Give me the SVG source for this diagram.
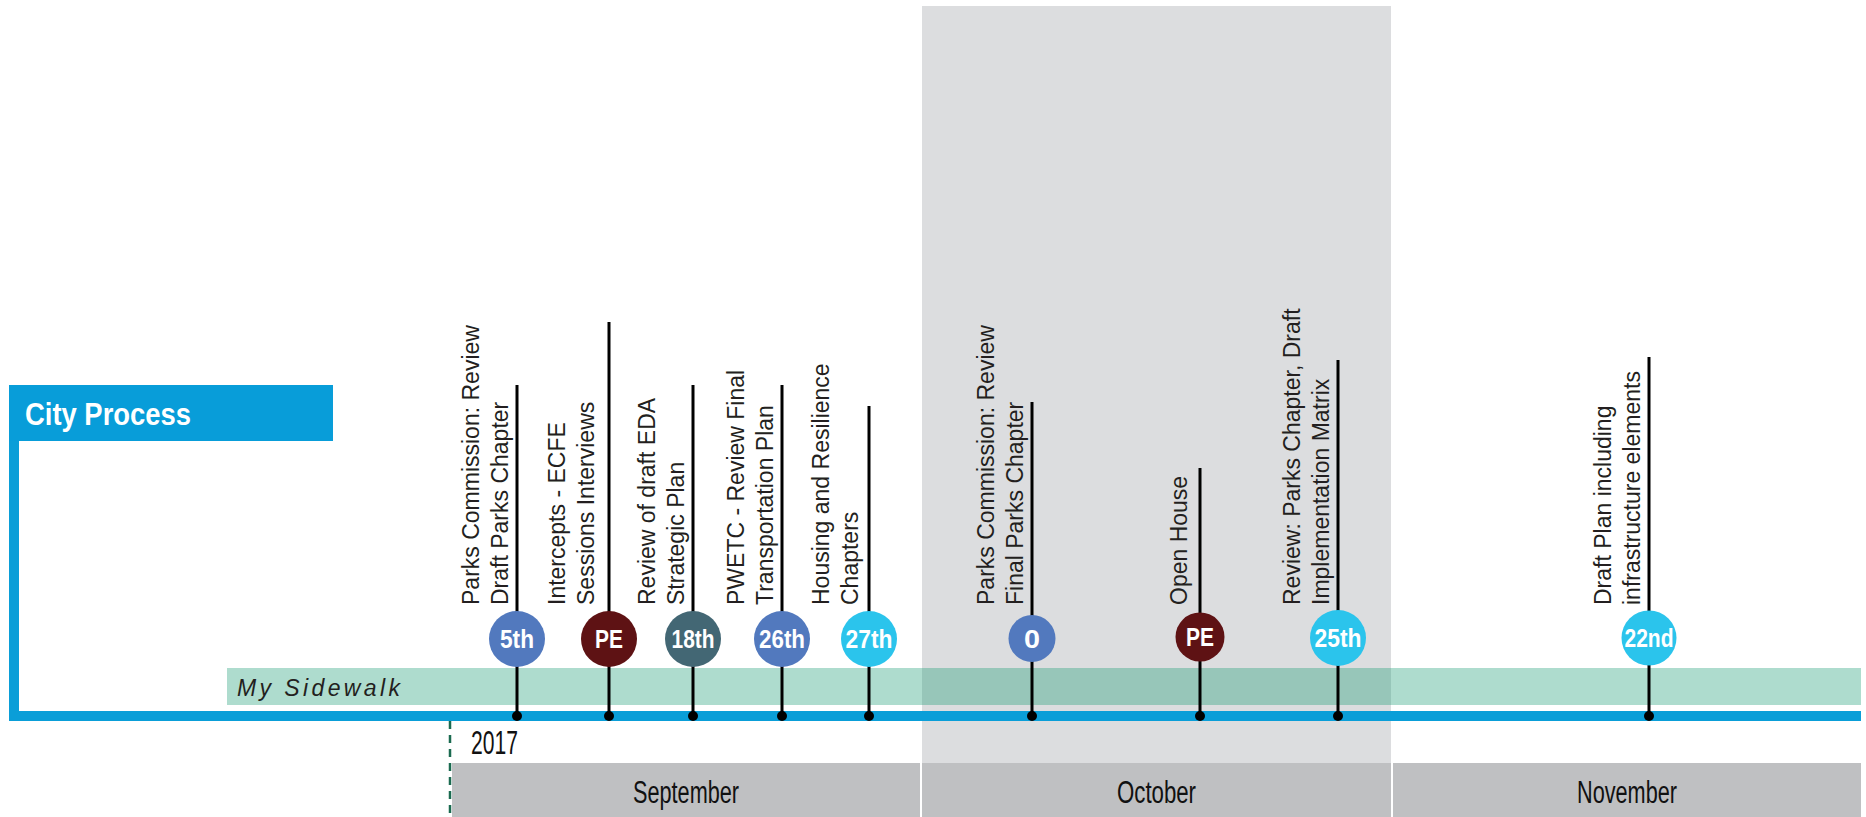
<svg xmlns="http://www.w3.org/2000/svg" width="1866" height="817" viewBox="0 0 1866 817">
<style>
.lbl{font-family:"Liberation Sans",Arial,sans-serif;font-size:23px;fill:#231f20}
.dt{font-family:"Liberation Sans",Arial,sans-serif;font-weight:bold;font-size:25px;fill:#ffffff;text-anchor:middle}
.mon{font-family:"Liberation Sans Narrow","Liberation Sans",Arial,sans-serif;font-size:31px;fill:#111111;text-anchor:middle}
.stem{stroke:#000;stroke-width:3}
.dot{fill:#000}
.c-blue{fill:#5279be}
.c-pe{fill:#5e1214}
.c-slate{fill:#436774}
.c-cyan{fill:#2bc4ec}
.bar{fill:#bfc0c2}
</style>
<rect id="october-band" x="922" y="6" width="469" height="757" fill="#dcdddf"/>
<rect id="my-sidewalk-band" x="227" y="668" width="1634" height="37" fill="#1e9e77" fill-opacity="0.36"/>
<text x="237" y="696" font-family="'Liberation Sans',Arial,sans-serif" font-style="italic" font-size="23" fill="#231f20" textLength="163" lengthAdjust="spacing">My Sidewalk</text>
<g id="city-process">
<path d="M14,441 V716 H1861" fill="none" stroke="#0a9ed8" stroke-width="10" stroke-linejoin="miter"/>
<rect x="9" y="385" width="324" height="56" fill="#089dd9"/>
<text x="25" y="425" font-family="'Liberation Sans',Arial,sans-serif" font-weight="bold" font-size="31" fill="#ffffff" textLength="166" lengthAdjust="spacingAndGlyphs">City Process</text>
</g>
<g id="months">
<rect class="bar" x="452" y="763" width="468" height="54"/>
<rect class="bar" x="922" y="763" width="469" height="54"/>
<rect class="bar" x="1393" y="763" width="468" height="54"/>
<text class="mon" x="686" y="803" textLength="106" lengthAdjust="spacingAndGlyphs">September</text>
<text class="mon" x="1156.5" y="803" textLength="79" lengthAdjust="spacingAndGlyphs">October</text>
<text class="mon" x="1627" y="803" textLength="100" lengthAdjust="spacingAndGlyphs">November</text>
</g>
<g id="year">
<line x1="450" y1="721" x2="450" y2="817" stroke="#1b6b50" stroke-width="2.5" stroke-dasharray="8 6"/>
<text x="471" y="754" font-family="'Liberation Sans Narrow','Liberation Sans',Arial,sans-serif" font-size="33" fill="#111111" textLength="47" lengthAdjust="spacingAndGlyphs">2017</text>
</g>
<g id="connectors">
<line class="stem" x1="517" y1="385" x2="517" y2="716"/>
<line class="stem" x1="609" y1="322" x2="609" y2="716"/>
<line class="stem" x1="693" y1="385" x2="693" y2="716"/>
<line class="stem" x1="782" y1="385" x2="782" y2="716"/>
<line class="stem" x1="869" y1="406" x2="869" y2="716"/>
<line class="stem" x1="1032" y1="402" x2="1032" y2="716"/>
<line class="stem" x1="1200" y1="468" x2="1200" y2="716"/>
<line class="stem" x1="1338" y1="360" x2="1338" y2="716"/>
<line class="stem" x1="1649" y1="357" x2="1649" y2="716"/>
<circle class="dot" cx="517" cy="716" r="5"/>
<circle class="dot" cx="609" cy="716" r="5"/>
<circle class="dot" cx="693" cy="716" r="5"/>
<circle class="dot" cx="782" cy="716" r="5"/>
<circle class="dot" cx="869" cy="716" r="5"/>
<circle class="dot" cx="1032" cy="716" r="5"/>
<circle class="dot" cx="1200" cy="716" r="5"/>
<circle class="dot" cx="1338" cy="716" r="5"/>
<circle class="dot" cx="1649" cy="716" r="5"/>
</g>
<g id="ev-sep5">
<text class="lbl" transform="translate(479,605) rotate(-90)"><tspan x="0" y="0">Parks Commission: Review</tspan><tspan x="0" y="29">Draft Parks Chapter</tspan></text>
<circle class="c-blue" cx="517" cy="639" r="28"/>
<text class="dt" x="517" y="648" textLength="34" lengthAdjust="spacingAndGlyphs">5th</text>
</g>
<g id="ev-sep-pe">
<text class="lbl" transform="translate(565,605) rotate(-90)"><tspan x="0" y="0">Intercepts - ECFE</tspan><tspan x="0" y="29">Sessions Interviews</tspan></text>
<circle class="c-pe" cx="609" cy="639" r="28"/>
<text class="dt" x="609" y="648" textLength="28" lengthAdjust="spacingAndGlyphs">PE</text>
</g>
<g id="ev-sep18">
<text class="lbl" transform="translate(655,605) rotate(-90)"><tspan x="0" y="0">Review of draft EDA</tspan><tspan x="0" y="29">Strategic Plan</tspan></text>
<circle class="c-slate" cx="693" cy="639" r="28"/>
<text class="dt" x="693" y="648" textLength="43" lengthAdjust="spacingAndGlyphs">18th</text>
</g>
<g id="ev-sep26">
<text class="lbl" transform="translate(744,605) rotate(-90)"><tspan x="0" y="0">PWETC - Review Final</tspan><tspan x="0" y="29">Transportation Plan</tspan></text>
<circle class="c-blue" cx="782" cy="639" r="28"/>
<text class="dt" x="782" y="648" textLength="46" lengthAdjust="spacingAndGlyphs">26th</text>
</g>
<g id="ev-sep27">
<text class="lbl" transform="translate(829,605) rotate(-90)"><tspan x="0" y="0">Housing and Resilience</tspan><tspan x="0" y="29">Chapters</tspan></text>
<circle class="c-cyan" cx="869" cy="639" r="28"/>
<text class="dt" x="869" y="648" textLength="47" lengthAdjust="spacingAndGlyphs">27th</text>
</g>
<g id="ev-oct0">
<text class="lbl" transform="translate(994,605) rotate(-90)"><tspan x="0" y="0">Parks Commission: Review</tspan><tspan x="0" y="29">Final Parks Chapter</tspan></text>
<circle class="c-blue" cx="1032" cy="638.5" r="23.5"/>
<text class="dt" x="1032" y="647.5" textLength="16" lengthAdjust="spacingAndGlyphs">0</text>
</g>
<g id="ev-oct-pe">
<text class="lbl" transform="translate(1187,605) rotate(-90)">Open House</text>
<circle class="c-pe" cx="1200" cy="637" r="24.5"/>
<text class="dt" x="1200" y="646" textLength="28" lengthAdjust="spacingAndGlyphs">PE</text>
</g>
<g id="ev-oct25">
<text class="lbl" transform="translate(1300,605) rotate(-90)"><tspan x="0" y="0">Review: Parks Chapter, Draft</tspan><tspan x="0" y="29">Implementation Matrix</tspan></text>
<circle class="c-cyan" cx="1338" cy="638" r="28"/>
<text class="dt" x="1338" y="647" textLength="47" lengthAdjust="spacingAndGlyphs">25th</text>
</g>
<g id="ev-nov22">
<text class="lbl" transform="translate(1611,605) rotate(-90)"><tspan x="0" y="0">Draft Plan including</tspan><tspan x="0" y="29">infrastructure elements</tspan></text>
<circle class="c-cyan" cx="1649" cy="638" r="27.5"/>
<text class="dt" x="1649" y="647" textLength="49" lengthAdjust="spacingAndGlyphs">22nd</text>
</g>
</svg>
